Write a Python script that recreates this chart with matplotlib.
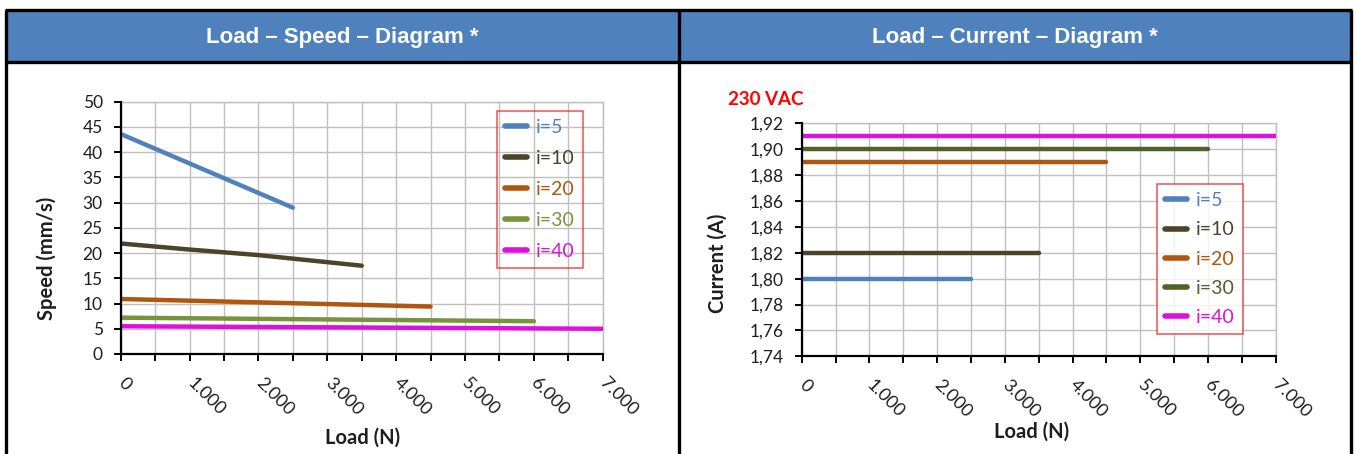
import matplotlib
matplotlib.use("Agg")
import matplotlib.pyplot as plt
from matplotlib.patches import Rectangle
from matplotlib.lines import Line2D
from matplotlib.ticker import FuncFormatter, MultipleLocator

# ---------------- data ----------------
series_labels = ["i=5", "i=10", "i=20", "i=30", "i=40"]

# Load - Speed
load_i5 = [0, 2500]
speed_i5 = [43.6, 29.0]
load_i10 = [0, 1000, 2000, 3000, 3500]
speed_i10 = [21.9, 20.7, 19.6, 18.2, 17.5]
load_i20 = [0, 4500]
speed_i20 = [10.9, 9.4]
load_i30 = [0, 6000]
speed_i30 = [7.2, 6.5]
load_i40 = [0, 7000]
speed_i40 = [5.5, 5.0]

# Load - Current (230 VAC)
cur_load_i5 = [0, 2500]
current_i5 = [1.80, 1.80]
cur_load_i10 = [0, 3500]
current_i10 = [1.82, 1.82]
cur_load_i20 = [0, 4500]
current_i20 = [1.89, 1.89]
cur_load_i30 = [0, 6000]
current_i30 = [1.90, 1.90]
cur_load_i40 = [0, 7000]
current_i40 = [1.91, 1.91]

x_ticks = [0, 1000, 2000, 3000, 4000, 5000, 6000, 7000]
speed_ticks = [0, 5, 10, 15, 20, 25, 30, 35, 40, 45, 50]
current_ticks = [1.74, 1.76, 1.78, 1.80, 1.82, 1.84, 1.86, 1.88, 1.90, 1.92]

speed_colors = ["#4F81BD", "#4A452A", "#B0560E", "#77933C", "#DD11DD"]
current_colors = ["#4F81BD", "#4A452A", "#B0560E", "#4F6228", "#DD11DD"]

# ---------------- figure ----------------
W, H = 1356, 454
fig = plt.figure(figsize=(W / 100, H / 100), dpi=100)
fig.patch.set_facecolor("white")

def fx(px):
    return px / W

def fy(py):
    return 1 - py / H

# header band and frame
header_blue = "#4F81BD"
fig.patches.append(Rectangle((fx(6), fy(62)), fx(1351) - fx(6), fy(10) - fy(62),
                             transform=fig.transFigure, facecolor=header_blue,
                             edgecolor="none", zorder=0))
frame_kw = dict(transform=fig.transFigure, color="black", linewidth=2.4,
                solid_capstyle="butt", zorder=5)
fig.lines.append(Line2D([fx(5), fx(1352)], [fy(10), fy(10)], **frame_kw))
fig.lines.append(Line2D([fx(5), fx(1352)], [fy(62), fy(62)], **frame_kw))
fig.lines.append(Line2D([fx(6), fx(6)], [fy(10), 0], **frame_kw))
fig.lines.append(Line2D([fx(679), fx(679)], [fy(10), 0], **frame_kw))
fig.lines.append(Line2D([fx(1351), fx(1351)], [fy(10), 0], **frame_kw))

title_font = ["Liberation Sans Narrow", "Liberation Sans", "DejaVu Sans"]
fig.text(fx(342), fy(38), "Load – Speed – Diagram *", ha="center", va="center",
         color="white", fontsize=16, fontweight="bold", family=title_font)
fig.text(fx(1015), fy(38), "Load – Current – Diagram *", ha="center", va="center",
         color="white", fontsize=16, fontweight="bold", family=title_font)

body_font = ["Lato", "DejaVu Sans"]
plt.rcParams["font.family"] = body_font

grid_color = "#BFBFBF"
text_color = "#1E1E1E"

def style_axes(ax, xmax):
    ax.set_xlim(0, xmax)
    ax.xaxis.set_major_locator(MultipleLocator(1000))
    ax.xaxis.set_minor_locator(MultipleLocator(500))
    ax.xaxis.set_major_formatter(FuncFormatter(
        lambda v, p: "0" if v == 0 else f"{int(v):,}".replace(",", ".")))
    ax.grid(True, which="both", color=grid_color, linewidth=1.0, zorder=0)
    ax.set_axisbelow(True)
    for s in ("top", "right"):
        ax.spines[s].set_color(grid_color)
        ax.spines[s].set_linewidth(1.0)
    for s in ("left", "bottom"):
        ax.spines[s].set_color("black")
        ax.spines[s].set_linewidth(1.6)
        ax.spines[s].set_zorder(4)
    ax.tick_params(axis="both", which="both", direction="out", length=5,
                   width=1.4, color="black", labelsize=12.5, labelcolor=text_color)
    ax.tick_params(axis="y", pad=8)
    ax.tick_params(axis="x", which="major", pad=14, labelsize=13)
    for lab in ax.get_xticklabels():
        lab.set_rotation(-45)
        lab.set_ha("left")
        lab.set_va("center")
        lab.set_rotation_mode("anchor")

def style_legend(leg):
    leg.get_frame().set_linewidth(1.1)
    leg.get_frame().set_facecolor("white")
    for line in leg.get_lines():
        line.set_linewidth(4)

# ---- left: Load - Speed ----
axL = fig.add_axes([fx(120.7), fy(354), fx(602.7) - fx(120.7), fy(101.7) - fy(354)])
speed_loads = [load_i5, load_i10, load_i20, load_i30, load_i40]
speed_vals = [speed_i5, speed_i10, speed_i20, speed_i30, speed_i40]
for xs, ys, c, lab in zip(speed_loads, speed_vals, speed_colors, series_labels):
    axL.plot(xs, ys, color=c, linewidth=3.2, label=lab, solid_capstyle="round", zorder=3)
axL.set_ylim(0, 50)
axL.set_yticks(speed_ticks)
style_axes(axL, 7000)

legL = axL.legend(loc="upper left", bbox_to_anchor=(fx(497), fy(111)),
                  bbox_transform=fig.transFigure, borderaxespad=0,
                  fontsize=14, labelcolor="linecolor", frameon=True, fancybox=False,
                  edgecolor="#E8262A", handlelength=1.1, handletextpad=0.5,
                  labelspacing=0.72, borderpad=0.42)
style_legend(legL)
legL.get_frame().set_facecolor("none")

fig.text(fx(47), fy(258), "Speed (mm/s)", rotation=90, ha="center", va="center",
         fontsize=14.5, fontweight="bold", color=text_color)
fig.text(fx(363), fy(438), "Load (N)", ha="center", va="center",
         fontsize=14.5, fontweight="bold", color=text_color)

# ---- right: Load - Current ----
axR = fig.add_axes([fx(801.7), fy(356.3), fx(1275.7) - fx(801.7), fy(123.3) - fy(356.3)])
cur_loads = [cur_load_i5, cur_load_i10, cur_load_i20, cur_load_i30, cur_load_i40]
cur_vals = [current_i5, current_i10, current_i20, current_i30, current_i40]
for xs, ys, c, lab in zip(cur_loads, cur_vals, current_colors, series_labels):
    axR.plot(xs, ys, color=c, linewidth=3.2, label=lab, solid_capstyle="round", zorder=3)
axR.set_ylim(1.74, 1.92)
axR.set_yticks(current_ticks)
axR.yaxis.set_major_formatter(FuncFormatter(lambda v, p: f"{v:.2f}".replace(".", ",")))
style_axes(axR, 7000)

legR = axR.legend(loc="upper left", bbox_to_anchor=(fx(1157), fy(184)),
                  bbox_transform=fig.transFigure, borderaxespad=0,
                  fontsize=14, labelcolor="linecolor", frameon=True, fancybox=False,
                  edgecolor="#E8262A", handlelength=1.1, handletextpad=0.5,
                  labelspacing=0.63, borderpad=0.42)
style_legend(legR)

fig.text(fx(718), fy(263), "Current (A)", rotation=90, ha="center", va="center",
         fontsize=14.5, fontweight="bold", color=text_color)
fig.text(fx(1032), fy(432), "Load (N)", ha="center", va="center",
         fontsize=14.5, fontweight="bold", color=text_color)
fig.text(fx(728), fy(100), "230 VAC", ha="left", va="center",
         fontsize=13.5, fontweight="bold", color="#FF0000")

fig.savefig("out.png", dpi=100)
